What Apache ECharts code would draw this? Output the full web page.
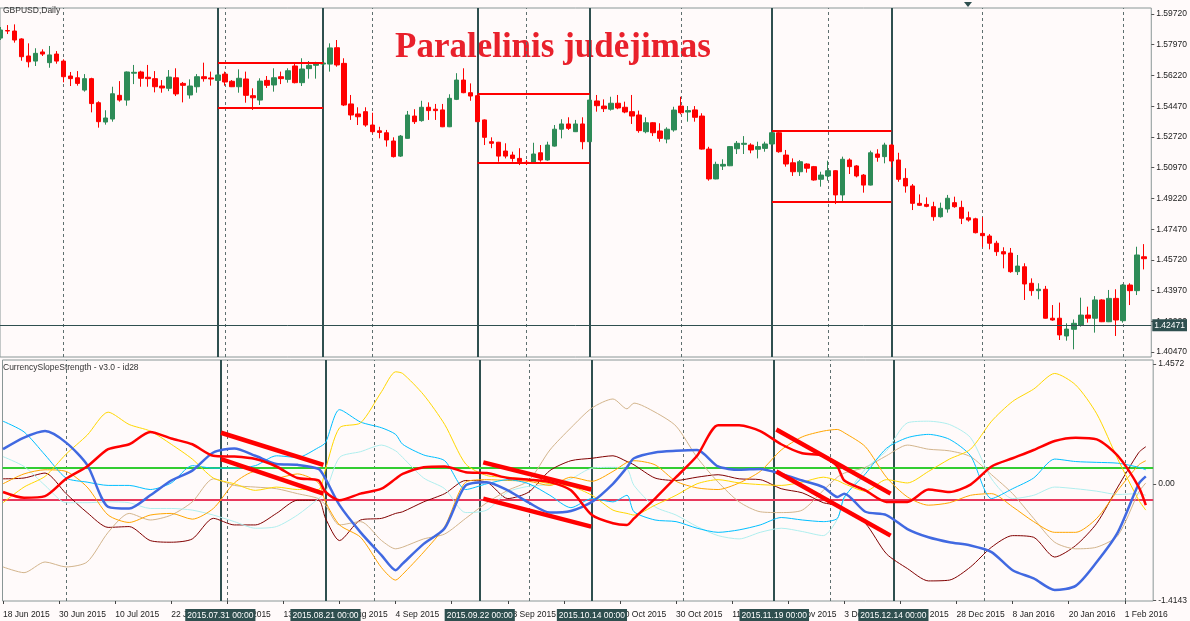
<!DOCTYPE html>
<html>
<head>
<meta charset="utf-8">
<title>GBPUSD Daily</title>
<script src="https://cdn.jsdelivr.net/npm/echarts@6/dist/echarts.min.js"></script>
<style>
  html, body { margin: 0; padding: 0; background: #fffafa; }
  #main { width: 1190px; height: 621px; }
</style>
</head>
<body>
<div id="main"></div>
<script>
// GBPUSD daily bars from 18 Jun 2015, each row: open, close, low, high
var ohlc = [
  [1.5835,1.5881,1.5824,1.5898],[1.5878,1.5875,1.5858,1.5909],[1.5875,1.5824,1.5809,1.5913],[1.5830,1.5729,1.5706,1.5834],
  [1.5733,1.5700,1.5668,1.5805],[1.5704,1.5748,1.5676,1.5777],[1.5756,1.5744,1.5733,1.5771],[1.5695,1.5739,1.5666,1.5790],
  [1.5744,1.5704,1.5689,1.5761],[1.5704,1.5615,1.5583,1.5714],[1.5619,1.5604,1.5562,1.5642],[1.5609,1.5577,1.5564,1.5647],
  [1.5539,1.5604,1.5530,1.5630],[1.5604,1.5462,1.5412,1.5609],[1.5467,1.5359,1.5325,1.5475],[1.5357,1.5380,1.5342,1.5424],
  [1.5374,1.5518,1.5359,1.5558],[1.5509,1.5482,1.5473,1.5590],[1.5482,1.5642,1.5450,1.5645],[1.5635,1.5640,1.5573,1.5682],
  [1.5642,1.5606,1.5558,1.5649],[1.5612,1.5604,1.5558,1.5682],[1.5604,1.5558,1.5526,1.5647],[1.5562,1.5551,1.5524,1.5596],
  [1.5549,1.5613,1.5533,1.5653],[1.5609,1.5517,1.5505,1.5663],[1.5577,1.5566,1.5469,1.5585],[1.5511,1.5562,1.5490,1.5600],
  [1.5558,1.5615,1.5524,1.5630],[1.5615,1.5604,1.5587,1.5695],[1.5608,1.5602,1.5564,1.5644],[1.5594,1.5625,1.5587,1.5634],
  [1.5630,1.5585,1.5564,1.5644],[1.5589,1.5558,1.5556,1.5596],[1.5558,1.5606,1.5524,1.5657],[1.5602,1.5509,1.5467,1.5644],
  [1.5507,1.5495,1.5426,1.5549],[1.5482,1.5590,1.5454,1.5606],[1.5594,1.5566,1.5551,1.5619],[1.5568,1.5609,1.5530,1.5663],
  [1.5615,1.5604,1.5573,1.5644],[1.5600,1.5649,1.5581,1.5663],[1.5676,1.5581,1.5577,1.5695],[1.5581,1.5659,1.5562,1.5720],
  [1.5661,1.5680,1.5604,1.5704],[1.5680,1.5695,1.5604,1.5700],[1.5687,1.5693,1.5676,1.5710],[1.5687,1.5779,1.5644,1.5805],
  [1.5780,1.5682,1.5672,1.5824],[1.5691,1.5454,1.5448,1.5720],[1.5460,1.5397,1.5369,1.5511],[1.5403,1.5387,1.5340,1.5441],
  [1.5416,1.5340,1.5330,1.5441],[1.5340,1.5302,1.5293,1.5410],[1.5307,1.5298,1.5264,1.5330],[1.5296,1.5255,1.5217,1.5312],
  [1.5249,1.5160,1.5155,1.5270],[1.5163,1.5277,1.5158,1.5283],[1.5264,1.5397,1.5262,1.5420],[1.5391,1.5359,1.5346,1.5430],
  [1.5365,1.5441,1.5359,1.5478],[1.5441,1.5422,1.5369,1.5469],[1.5430,1.5422,1.5369,1.5460],[1.5426,1.5330,1.5328,1.5460],
  [1.5330,1.5492,1.5328,1.5515],[1.5486,1.5596,1.5482,1.5635],[1.5596,1.5524,1.5521,1.5663],[1.5524,1.5505,1.5478,1.5577],
  [1.5507,1.5359,1.5357,1.5511],[1.5369,1.5270,1.5226,1.5372],[1.5245,1.5236,1.5208,1.5270],[1.5242,1.5163,1.5131,1.5244],
  [1.5192,1.5163,1.5150,1.5236],[1.5169,1.5150,1.5131,1.5188],[1.5150,1.5131,1.5112,1.5208],[1.5128,1.5125,1.5112,1.5141],
  [1.5125,1.5175,1.5123,1.5239],[1.5182,1.5141,1.5131,1.5226],[1.5141,1.5226,1.5137,1.5245],[1.5220,1.5316,1.5217,1.5340],
  [1.5316,1.5346,1.5264,1.5373],[1.5346,1.5321,1.5312,1.5384],[1.5302,1.5346,1.5300,1.5369],[1.5346,1.5245,1.5202,1.5384],
  [1.5245,1.5482,1.5243,1.5511],[1.5477,1.5450,1.5416,1.5511],[1.5448,1.5433,1.5414,1.5486],[1.5430,1.5464,1.5422,1.5501],
  [1.5464,1.5437,1.5430,1.5511],[1.5441,1.5414,1.5407,1.5473],[1.5416,1.5391,1.5346,1.5511],[1.5397,1.5308,1.5296,1.5422],
  [1.5302,1.5353,1.5293,1.5384],[1.5353,1.5296,1.5277,1.5356],[1.5306,1.5264,1.5245,1.5350],[1.5260,1.5316,1.5236,1.5327],
  [1.5312,1.5425,1.5302,1.5444],[1.5448,1.5410,1.5401,1.5501],[1.5414,1.5422,1.5359,1.5448],[1.5426,1.5384,1.5359,1.5448],
  [1.5391,1.5203,1.5200,1.5407],[1.5203,1.5033,1.5023,1.5216],[1.5033,1.5116,1.5031,1.5131],[1.5106,1.5116,1.5084,1.5145],
  [1.5108,1.5217,1.5106,1.5220],[1.5205,1.5236,1.5175,1.5249],[1.5230,1.5236,1.5175,1.5277],[1.5226,1.5198,1.5179,1.5236],
  [1.5202,1.5217,1.5150,1.5245],[1.5207,1.5232,1.5188,1.5245],[1.5232,1.5296,1.5226,1.5302],[1.5296,1.5188,1.5182,1.5302],
  [1.5169,1.5118,1.5103,1.5198],[1.5125,1.5074,1.5050,1.5150],[1.5074,1.5131,1.5050,1.5141],[1.5118,1.5094,1.5069,1.5122],
  [1.5103,1.5027,1.5023,1.5107],[1.5031,1.5055,1.4989,1.5074],[1.5050,1.5080,1.5023,1.5137],[1.5080,1.4942,1.4890,1.5083],
  [1.4942,1.5145,1.4903,1.5160],[1.5141,1.5103,1.5061,1.5150],[1.5107,1.5050,1.5042,1.5112],[1.5055,1.4998,1.4955,1.5061],
  [1.4998,1.5182,1.4996,1.5194],[1.5175,1.5156,1.5131,1.5202],[1.5160,1.5226,1.5122,1.5239],[1.5226,1.5135,1.5099,1.5232],
  [1.5141,1.5031,1.5017,1.5182],[1.5036,1.4993,1.4955,1.5094],[1.4993,1.4894,1.4856,1.5004],[1.4894,1.4883,1.4879,1.4945],
  [1.4888,1.4877,1.4872,1.4928],[1.4875,1.4818,1.4795,1.4903],[1.4818,1.4866,1.4813,1.4898],[1.4862,1.4923,1.4841,1.4942],
  [1.4898,1.4875,1.4869,1.4932],[1.4871,1.4809,1.4776,1.4909],[1.4812,1.4799,1.4790,1.4847],[1.4806,1.4727,1.4723,1.4812],
  [1.4723,1.4710,1.4644,1.4815],[1.4708,1.4667,1.4632,1.4719],[1.4667,1.4619,1.4595,1.4681],[1.4619,1.4606,1.4524,1.4644],
  [1.4611,1.4505,1.4499,1.4640],[1.4505,1.4537,1.4486,1.4600],[1.4533,1.4435,1.4344,1.4553],[1.4439,1.4397,1.4368,1.4467],
  [1.4397,1.4405,1.4348,1.4439],[1.4405,1.4240,1.4238,1.4424],[1.4240,1.4230,1.4226,1.4315],[1.4240,1.4145,1.4116,1.4329],
  [1.4139,1.4178,1.4112,1.4211],[1.4177,1.4211,1.4063,1.4233],[1.4201,1.4258,1.4192,1.4357],[1.4258,1.4240,1.4215,1.4306],
  [1.4240,1.4344,1.4158,1.4366],[1.4344,1.4220,1.4218,1.4348],[1.4220,1.4353,1.4218,1.4401],[1.4353,1.4230,1.4139,1.4405],
  [1.4226,1.4429,1.4215,1.4435],[1.4429,1.4397,1.4315,1.4439],[1.4397,1.4600,1.4372,1.4647],[1.4590,1.4579,1.4518,1.4662]
];

// time axis labels (bar index -> text)
var tickIdx = [0, 8, 16, 24, 32, 40, 48, 56, 64, 72, 80, 88, 96, 104, 112, 120, 128, 136, 144, 152, 160];
var tickLabels = ['18 Jun 2015', '30 Jun 2015', '10 Jul 2015', '22 Jul 2015', '3 Aug 2015', '13 Aug 2015', '25 Aug 2015',
  '4 Sep 2015', '16 Sep 2015', '28 Sep 2015', '8 Oct 2015', '20 Oct 2015', '30 Oct 2015', '11 Nov 2015', '23 Nov 2015',
  '3 Dec 2015', '15 Dec 2015', '28 Dec 2015', '8 Jan 2016', '20 Jan 2016', '1 Feb 2016'];
var monthIdx = [9, 32, 53, 75, 97, 118, 140, 160];
var markerIdx = [31, 46, 68, 84, 110, 127];
var markerLabels = ['2015.07.31 00:00', '2015.08.21 00:00', '2015.09.22 00:00', '2015.10.14 00:00', '2015.11.19 00:00', '2015.12.14 00:00'];

var priceTicks = [1.4047, 1.4222, 1.4397, 1.4572, 1.4747, 1.4922, 1.5097, 1.5272, 1.5447, 1.5622, 1.5797, 1.5972];
var cssTicks = [1.4572, 0, -1.4143];
var levelUp = 0.2, levelDown = -0.2;
var lastLine = 1.42471;

// red boxes on the price chart
var boxFrom = [31, 68, 110], boxTo = [46, 84, 127];
var boxTop = [1.5697, 1.5517, 1.5306], boxBottom = [1.5439, 1.5125, 1.4903];

// hand drawn trend lines on the indicator
var trendFrom = [[31.1, 0.62], [31.1, 0.30], [68.5, 0.26], [68.5, -0.18], [110.3, 0.66], [110.3, 0.15]];
var trendTo = [[45.7, 0.23], [45.7, -0.12], [83.9, -0.07], [83.9, -0.52], [126.6, -0.12], [126.6, -0.63]];

// CurrencySlopeStrength values, read at these bars
var cssIdx = [0,3,6,9,12,15,18,21,24,27,30,33,36,39,42,45,46,48,51,54,56,57,60,63,66,69,72,75,78,81,
  84,87,89,90,93,96,99,102,105,108,111,114,117,119,120,123,126,129,132,135,138,141,144,147,150,153,156,159,162,163];
var cssRed = [-0.10,-0.17,-0.15,0.06,0.21,0.42,0.48,0.63,0.55,0.48, 0.34,0.33,0.30,0.21,0.07,0.04,-0.10,-0.20,-0.12,-0.06,
  0.06,0.12,0.20,0.21,0.14,0.13,0.07,0.05,0.02,-0.08, -0.38,-0.48,-0.50,-0.42,-0.18,0.08,0.34,0.71,0.71,0.64,
  0.48,0.37,0.34,0.21,0.04,-0.08,-0.22,-0.22,-0.07,-0.10, -0.01,0.21,0.31,0.41,0.52,0.56,0.54,0.34,-0.04,-0.26];
var cssBlue = [0.42,0.56,0.64,0.50,0.23,-0.28,-0.30,-0.14,0.04,0.16, 0.38,0.43,0.34,0.24,0.23,0.18,0.06,-0.26,-0.59,-0.87,
  -1.05,-0.97,-0.73,-0.54,-0.02,0.02,-0.08,-0.23,-0.35,-0.33, -0.22,0.00,0.20,0.31,0.38,0.40,0.41,0.21,0.17,0.18,
  0.12,0.04,-0.04,-0.16,-0.12,-0.34,-0.38,-0.55,-0.65,-0.71, -0.75,-0.83,-1.05,-1.15,-1.29,-1.24,-0.95,-0.59,0.00,0.09];
var cssGold = [-0.23,-0.04,0.09,0.36,0.59,0.87,0.72,0.64,0.48,0.30, 0.07,0.00,-0.08,-0.04,-0.07,-0.07,0.18,0.68,0.74,1.12,
  1.36,1.34,1.08,0.72,0.24,0.10,0.08,0.05,0.00,-0.03, -0.14,-0.32,-0.36,-0.38,-0.26,-0.14,0.00,0.05,0.01,-0.01,
  -0.02,0.02,0.08,0.04,0.00,-0.09,0.05,0.01,0.15,0.30, 0.42,0.76,1.00,1.15,1.34,1.20,0.85,0.30,-0.20,-0.32];
var cssSky = [0.76,0.63,0.35,0.07,0.02,-0.02,-0.02,-0.07,0.01,0.22, 0.19,0.19,0.22,0.34,0.32,0.44,0.50,0.90,0.75,0.68,
  0.60,0.48,0.35,0.28,-0.07,0.00,0.05,0.00,-0.14,-0.29, -0.18,-0.22,-0.14,-0.34,-0.44,-0.46,-0.54,-0.59,-0.56,-0.50,
  -0.41,-0.44,-0.46,-0.42,-0.16,0.12,0.43,0.56,0.60,0.54, 0.34,-0.18,-0.06,0.07,0.30,0.27,0.26,0.25,0.20,0.17];
var cssPale = [0.33,0.21,-0.02,-0.23,-0.23,-0.22,-0.23,-0.30,-0.30,-0.32, -0.38,-0.46,-0.54,-0.52,-0.38,-0.18,-0.10,0.32,0.39,0.47,
  0.40,0.32,0.07,-0.06,-0.35,-0.32,-0.10,-0.03,-0.01,0.06, 0.19,0.20,0.18,-0.02,-0.28,-0.38,-0.52,-0.63,-0.67,-0.59,
  -0.54,-0.58,-0.63,-0.43,-0.18,0.18,0.40,0.74,0.76,0.72, 0.56,0.06,-0.18,-0.14,-0.04,-0.06,-0.09,-0.13,-0.12,-0.14];
var cssOrange = [0.00,0.12,0.17,0.15,-0.04,-0.38,-0.47,-0.38,-0.36,-0.43, -0.30,0.01,0.15,0.07,0.12,0.01,-0.22,-0.50,-0.65,-1.02,
  -1.17,-1.10,-0.83,-0.52,0.02,0.05,0.04,0.03,-0.02,0.08, 0.03,0.15,0.26,0.28,0.23,0.03,-0.05,-0.07,0.01,0.15,
  0.41,0.57,0.64,0.66,0.62,0.45,0.08,-0.16,-0.26,-0.23, -0.14,-0.12,-0.28,-0.46,-0.59,-0.59,-0.42,-0.08,0.23,0.28];
var cssTan = [-1.01,-1.08,-0.95,-1.01,-0.95,-0.59,-0.36,-0.44,-0.38,-0.22, 0.06,-0.02,-0.04,-0.06,-0.12,-0.18,-0.26,-0.50,-0.46,-0.69,
  -0.79,-0.77,-0.67,-0.61,-0.42,-0.23,-0.08,0.04,0.41,0.68, 0.92,1.03,0.91,0.98,0.87,0.70,0.32,0.02,-0.22,-0.34,
  -0.35,-0.32,-0.08,0.08,0.13,0.20,0.34,0.47,0.42,0.40, 0.33,0.11,-0.12,-0.42,-0.71,-0.79,-0.77,-0.63,-0.10,0.01];
var cssMaroon = [0.06,0.07,0.13,-0.12,-0.35,-0.53,-0.52,-0.69,-0.71,-0.67, -0.42,-0.50,-0.50,-0.36,-0.20,-0.20,-0.42,-0.69,-0.44,-0.42,
  -0.36,-0.34,-0.22,-0.12,0.04,0.02,-0.18,-0.10,0.16,0.28, 0.31,0.34,0.27,0.23,0.07,0.04,0.08,0.11,0.06,0.05,
  -0.06,-0.11,-0.23,-0.26,-0.30,-0.48,-0.85,-1.03,-1.18,-1.17, -1.01,-0.77,-0.63,-0.65,-0.89,-0.75,-0.48,-0.04,0.38,0.45];

var FONT = '"Liberation Sans", Arial, sans-serif';
var SLATE = '#2f4f4f';
var FRAME = '#8a9696';

var chart = echarts.init(document.getElementById('main'));

function pairs(vals) {
  return cssIdx.map(function (x, k) { return [x, vals[k]]; });
}

function cssLine(name, vals, color, width) {
  return {
    name: name, type: 'line', xAxisIndex: 1, yAxisIndex: 1,
    data: pairs(vals), smooth: 0.25, symbol: 'none', silent: true,
    lineStyle: { color: color, width: width }, z: width > 1 ? 4 : 3
  };
}

// vertical guide lines for one pane
function guideLines() {
  var out = [];
  monthIdx.forEach(function (x) {
    out.push({ xAxis: x, lineStyle: { color: '#5f6f6f', width: 1, type: [3, 3] } });
  });
  markerIdx.forEach(function (x) {
    out.push({ xAxis: x, lineStyle: { color: SLATE, width: 2, type: 'solid' } });
  });
  return out;
}

var boxLines = [];
for (var b = 0; b < boxFrom.length; b++) {
  boxLines.push([{ coord: [boxFrom[b], boxTop[b]] }, { coord: [boxTo[b], boxTop[b]] }]);
  boxLines.push([{ coord: [boxFrom[b], boxBottom[b]] }, { coord: [boxTo[b], boxBottom[b]] }]);
}
var trendLines = trendFrom.map(function (p, k) {
  return [{ coord: p }, { coord: trendTo[k] }];
});

var xMin = -0.07, xMax = 164.05;

var option = {
  backgroundColor: '#fffafa',
  animation: false,
  textStyle: { fontFamily: FONT },
  grid: [
    { left: 0, top: 8, width: 1157, height: 349, show: true, borderColor: FRAME, borderWidth: 1, backgroundColor: 'transparent' },
    { left: 0, top: 360, width: 1157, height: 243, show: true, borderColor: FRAME, borderWidth: 1, backgroundColor: 'transparent' }
  ],
  xAxis: [
    { type: 'value', gridIndex: 0, min: xMin, max: xMax, show: false, axisLine: { onZero: false } },
    {
      type: 'value', gridIndex: 1, min: xMin, max: xMax, position: 'bottom',
      axisLine: { show: false, onZero: false }, splitLine: { show: false },
      axisTick: { show: true, customValues: tickIdx, length: 3, lineStyle: { color: '#444' } },
      axisLabel: {
        customValues: tickIdx, align: 'left', margin: 9, fontSize: 8.5, color: '#222',
        formatter: function (v) { var k = tickIdx.indexOf(Math.round(v)); return k < 0 ? '' : tickLabels[k]; }
      }
    },
    {
      type: 'value', gridIndex: 1, min: xMin, max: xMax, position: 'bottom',
      axisLine: { show: false, onZero: false }, splitLine: { show: false }, axisTick: { show: false },
      axisLabel: {
        customValues: markerIdx, align: 'center', margin: 8, fontSize: 8.5, color: '#ffffff',
        backgroundColor: SLATE, padding: [2, 2, 1, 2],
        formatter: function (v) { var k = markerIdx.indexOf(Math.round(v)); return k < 0 ? '' : markerLabels[k]; }
      }
    }
  ],
  yAxis: [
    {
      type: 'value', gridIndex: 0, position: 'right', min: 1.40193, max: 1.60062,
      axisLine: { show: false, onZero: false }, splitLine: { show: false },
      axisTick: { show: true, customValues: priceTicks, length: 3, lineStyle: { color: '#555' } },
      axisLabel: {
        customValues: priceTicks, margin: 5, fontSize: 8.5, color: '#222',
        formatter: function (v) { return v.toFixed(5); }
      }
    },
    {
      type: 'value', gridIndex: 1, position: 'right', min: -1.4241, max: 1.5036,
      axisLine: { show: false, onZero: false }, splitLine: { show: false },
      axisTick: { show: true, customValues: cssTicks, length: 3, lineStyle: { color: '#555' } },
      axisLabel: {
        customValues: cssTicks, margin: 5, fontSize: 8.5, color: '#222',
        formatter: function (v) { return v === 0 ? '0.00' : v.toFixed(4); }
      }
    }
  ],
  series: [
    {
      name: 'guides-price', type: 'line', xAxisIndex: 0, yAxisIndex: 0, data: [], silent: true,
      markLine: { silent: true, symbol: 'none', z: 1, label: { show: false }, data: guideLines() }
    },
    {
      name: 'GBPUSD', type: 'candlestick', xAxisIndex: 0, yAxisIndex: 0,
      data: ohlc.map(function (d, i) { return [i, d[0], d[1], d[2], d[3]]; }),
      encode: { x: 0, y: [1, 2, 3, 4] },
      barWidth: 5, silent: true, z: 2,
      itemStyle: { color: '#2e8b57', color0: '#ff0000', borderColor: '#2e8b57', borderColor0: '#ff0000', borderWidth: 1 }
    },
    {
      name: 'objects-price', type: 'line', xAxisIndex: 0, yAxisIndex: 0, data: [], silent: true,
      markLine: {
        silent: true, symbol: 'none', z: 5, label: { show: false },
        data: boxLines.map(function (seg) {
          return [Object.assign({ lineStyle: { color: '#ff0000', width: 2, type: 'solid' } }, seg[0]), seg[1]];
        }).concat([{
          yAxis: lastLine, lineStyle: { color: SLATE, width: 1, type: 'solid' },
          label: {
            show: true, position: 'end', distance: 1, formatter: lastLine.toFixed(5),
            color: '#ffffff', backgroundColor: SLATE, padding: [2, 2, 1, 2], fontSize: 8.5, fontFamily: FONT
          }
        }])
      }
    },
    {
      name: 'guides-css', type: 'line', xAxisIndex: 1, yAxisIndex: 1, data: [], silent: true,
      markLine: {
        silent: true, symbol: 'none', z: 1, label: { show: false },
        data: guideLines().concat([
          { yAxis: levelUp, lineStyle: { color: '#32cd32', width: 2, type: 'solid' } },
          { yAxis: levelDown, lineStyle: { color: '#e8385c', width: 2, type: 'solid' } }
        ])
      }
    },
    cssLine('maroon', cssMaroon, '#800000', 1),
    cssLine('tan', cssTan, '#d2b48c', 1),
    cssLine('pale', cssPale, '#afeeee', 1),
    cssLine('orange', cssOrange, '#ffa500', 1),
    cssLine('sky', cssSky, '#00bfff', 1),
    cssLine('gold', cssGold, '#ffd700', 1),
    cssLine('USD', cssBlue, '#4169e1', 2.5),
    cssLine('GBP', cssRed, '#ff0000', 2.5),
    {
      name: 'trend', type: 'line', xAxisIndex: 1, yAxisIndex: 1, data: [], silent: true,
      markLine: {
        silent: true, symbol: 'none', z: 6, label: { show: false },
        lineStyle: { color: '#ff0000', width: 4.5, type: 'solid' },
        data: trendLines
      }
    }
  ],
  graphic: [
    { type: 'text', left: 3, top: 6, style: { text: 'GBPUSD,Daily', fontSize: 8.5, fontFamily: FONT, fill: '#333' } },
    { type: 'text', left: 3, top: 363, style: { text: 'CurrencySlopeStrength - v3.0 - id28', fontSize: 8.5, fontFamily: FONT, fill: '#333' } },
    { type: 'text', left: 395, top: 30, style: { text: 'Paralelinis judėjimas', fontSize: 35, fontWeight: 'bold', fontFamily: '"Liberation Serif", "Times New Roman", serif', fill: '#e9202b' } },
    { type: 'polygon', shape: { points: [[964, 2], [972, 2], [968, 7]] }, style: { fill: SLATE } }
  ]
};

chart.setOption(option);
</script>
</body>
</html>
